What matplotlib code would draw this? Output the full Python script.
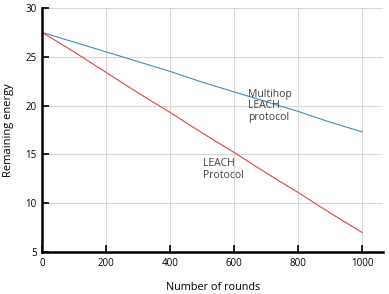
import matplotlib
matplotlib.use("Agg")
import matplotlib.pyplot as plt

rounds = [0, 100, 200, 300, 400, 500, 600, 700, 800, 900, 1000]
multihop = [27.5, 26.5, 25.5, 24.5, 23.5, 22.4, 21.4, 20.4, 19.4, 18.3, 17.3]
leach = [27.5, 25.5, 23.4, 21.3, 19.3, 17.2, 15.2, 13.1, 11.1, 9.0, 7.0]
xticks = [0, 200, 400, 600, 800, 1000]
yticks = [5, 10, 15, 20, 25, 30]

plt.rcParams['font.family'] = ['Open Sans', 'DejaVu Sans']
fig = plt.figure(figsize=(3.89, 2.94), dpi=100)
ax = fig.add_axes([0.108, 0.143, 0.877, 0.830])

ax.plot(rounds, multihop, color='#3a8cc6', lw=0.8)
ax.plot(rounds, leach, color='#e84040', lw=0.8)

ax.set_xlim(0, 1066)
ax.set_ylim(5, 30)
ax.set_xticks(xticks)
ax.set_yticks(yticks)
ax.grid(True, color='#d9d9d9', lw=0.8)
ax.set_axisbelow(True)
for s in ['top', 'right']:
    ax.spines[s].set_visible(False)
for s in ['left', 'bottom']:
    ax.spines[s].set_linewidth(1.8)
ax.tick_params(direction='in', length=5, width=1.2, labelsize=7, pad=4)

ax.text(644, 21.7, "Multihop\nLEACH\nprotocol", fontsize=7.5, va='top', ha='left', color='#404040', linespacing=1.05)
ax.text(503, 14.6, "LEACH\nProtocol", fontsize=7.5, va='top', ha='left', color='#404040', linespacing=1.05)

ax.set_xlabel("Number of rounds", fontsize=7.8, labelpad=10)
ax.set_ylabel("Remaining energy", fontsize=8, labelpad=8)

fig.savefig("out.png", dpi=100)
